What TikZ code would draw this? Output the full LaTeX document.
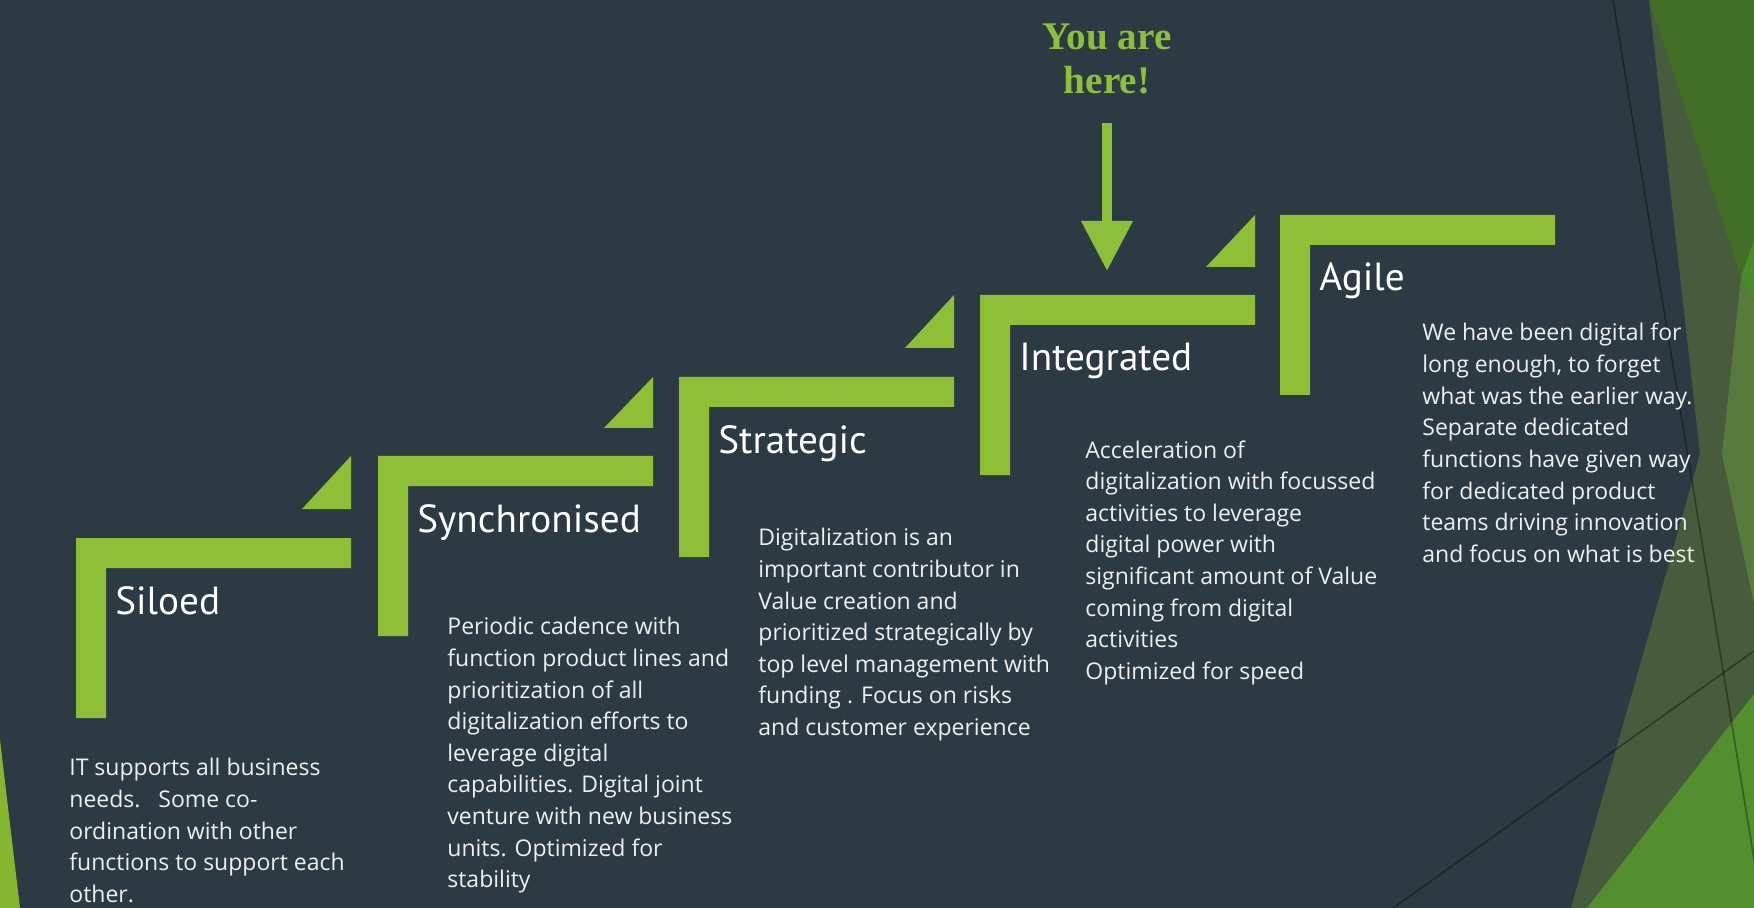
\documentclass[tikz,border=0pt]{standalone}
\usepackage{fontspec}
\setmainfont{Open Sans}
\newfontfamily\titlefont{PT Sans}
\newfontfamily\herefont{Liberation Serif}
\definecolor{slidebg}{HTML}{2C3B43}
\definecolor{stepgreen}{HTML}{8FBF37}
\definecolor{heregreen}{HTML}{8CBF3C}
\definecolor{notegray}{HTML}{EEEFEF}
\definecolor{facetdark}{HTML}{426F27}
\definecolor{facetolive}{HTML}{475B3D}
\definecolor{facetlight}{HTML}{587A3C}
\definecolor{facetmid}{HTML}{4B8A2A}
\definecolor{facetbright}{HTML}{548F2F}
\definecolor{facetleft}{HTML}{86B532}
\usetikzlibrary{arrows.meta}

\begin{document}
\begin{tikzpicture}[x=0.5pt, y=-0.5pt,
  stepbar/.style={fill=stepgreen},
  stepname/.style={anchor=base west, inner sep=0pt, text=white,
                   font=\titlefont\fontsize{19.6}{24}\selectfont},
  stepnote/.style={anchor=north west, inner sep=0pt, align=left, text=notegray,
                   font=\fontsize{11.5}{15.8}\selectfont},
  herenote/.style={align=center, inner sep=0pt, text=heregreen,
                   font=\herefont\bfseries\fontsize{19.6}{22}\selectfont},
  herearrow/.style={draw=heregreen, line width=5pt, shorten <=14pt,
                    -{Triangle[width=24.5pt, length=25pt]}},
  facetline/.style={draw=black, opacity=0.35, line width=0.8pt},
]
  % slide background and facets
  \fill[slidebg] (0,0) rectangle (1754,908);
  \useasboundingbox (0,0) rectangle (1754,908);
  \begin{scope}
    \clip (0,0) rectangle (1754,908);
    \fill[facetolive] (1649,0) -- (1754,0) -- (1754,908) -- (1571,908) -- (1700,454) -- cycle;
    \fill[facetdark] (1649,0) -- (1754,0) -- (1754,240) -- (1741,277) -- cycle;
    \fill[facetmid] (1741,277) -- (1754,240) -- (1754,300) -- cycle;
    \fill[facetlight] (1741,277) -- (1754,300) -- (1754,604) -- (1722,454) -- cycle;
    \fill[facetbright] (1587,908) -- (1754,694) -- (1754,908) -- cycle;
    \draw[facetline] (1613,0) -- (1762,908);
    \draw[facetline] (1393,908) -- (1754,651);
    \fill[facetleft] (0,740) -- (20,908) -- (0,908) -- cycle;
  \end{scope}

  % steps
  \fill[stepbar] (76,538) -- ++(275,0) -- ++(0,30) -- ++(-245,0) -- ++(0,150) -- ++(-30,0) -- cycle;
  \fill[stepbar] (351,456) -- (351,509) -- (302,509) -- cycle;
  \fill[stepbar] (378,456) -- ++(275,0) -- ++(0,30) -- ++(-245,0) -- ++(0,150) -- ++(-30,0) -- cycle;
  \fill[stepbar] (653,377) -- (653,428) -- (604,428) -- cycle;
  \fill[stepbar] (679,377) -- ++(275,0) -- ++(0,30) -- ++(-245,0) -- ++(0,150) -- ++(-30,0) -- cycle;
  \fill[stepbar] (954,295) -- (954,348) -- (905,348) -- cycle;
  \fill[stepbar] (980,295) -- ++(275,0) -- ++(0,30) -- ++(-245,0) -- ++(0,150) -- ++(-30,0) -- cycle;
  \fill[stepbar] (1255,215) -- (1255,267) -- (1206,267) -- cycle;
  \fill[stepbar] (1280,215) -- ++(275,0) -- ++(0,30) -- ++(-245,0) -- ++(0,150) -- ++(-30,0) -- cycle;

  \node[stepname] (siloed) at (115,614) {Siloed};
  \node[stepname] (sync) at (417,532) {Synchronised};
  \node[stepname] (strat) at (718,453) {Strategic};
  \node[stepname] (integ) at (1019,371) {Integrated};
  \node[stepname] (agile) at (1319,291) {Agile};

  \node[stepnote] (siloednote) at (69,758) {IT supports all business\\needs.~~~Some co-\\ordination with other\\functions to support each\\other.};
  \node[stepnote] (syncnote) at (447,617) {Periodic cadence with\\function product lines and\\prioritization of all\\digitalization efforts to\\leverage digital\\capabilities. Digital joint\\venture with new business\\units. Optimized for\\stability};
  \node[stepnote] (stratnote) at (758,528) {Digitalization is an\\important contributor in\\Value creation and\\prioritized strategically by\\top level management with\\funding . Focus on risks\\and customer experience};
  \node[stepnote] (integnote) at (1085,440) {Acceleration of\\digitalization with focussed\\activities to leverage\\digital power with\\significant amount of Value\\coming from digital\\activities\\Optimized for speed};
  \node[stepnote] (agilenote) at (1422,323) {We have been digital for\\long enough, to forget\\what was the earlier way.\\Separate dedicated\\functions have given way\\for dedicated product\\teams driving innovation\\and focus on what is best};

  % you are here
  \node[herenote] (here) at (1107,59) {You are\\here!};
  \coordinate (tip) at (1107,271);
  \draw[herearrow] (here.south) -- (tip);
\end{tikzpicture}
\end{document}
